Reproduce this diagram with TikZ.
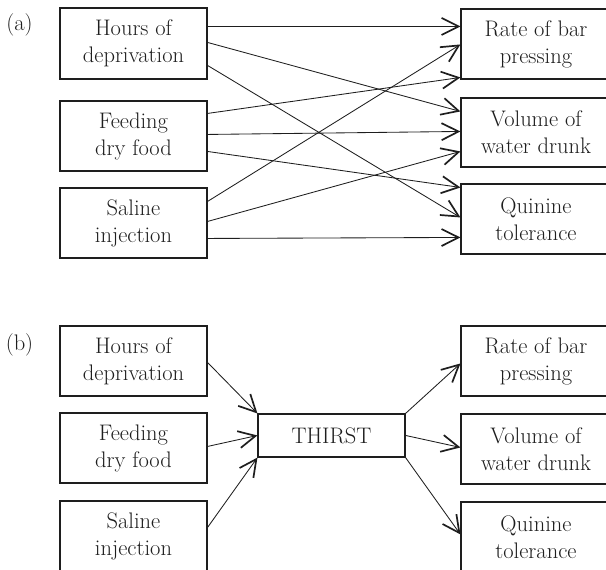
\documentclass[tikz,border=0pt]{standalone}
\usetikzlibrary{arrows.meta,calc}
\definecolor{ink}{HTML}{1E1E1E}
\begin{document}
\begin{tikzpicture}[x=1pt,y=-1pt,
  box/.style={draw=ink,line width=1.1pt,text=ink,align=center,inner sep=0pt,
    font=\fontsize{22.5}{27}\selectfont},
  lbox/.style={box,minimum width=147pt,minimum height=70pt},
  rbox/.style={box,minimum width=150pt,minimum height=70pt},
  conn/.style={draw=ink,line width=0.85pt,
    -{Straight Barb[length=17pt,width=17pt,line width=1.7pt]}},
  lbl/.style={text=ink,inner sep=0pt,font=\fontsize{22.5}{27}\selectfont}]
\useasboundingbox (0,0) rectangle (606,570);
\clip (0,0) rectangle (606,570);
% ---------- (a)
\node[lbl] (la) at (19.5,25) {(a)};
\node[lbox,minimum height=71pt] (ah) at (133.5,43.5) {Hours of\\deprivation};
\node[lbox] (af) at (133.5,136) {Feeding\\dry food};
\node[lbox] (as) at (133.5,223) {Saline\\injection};
\node[rbox] (ar) at (536,44) {Rate of bar\\pressing};
\node[rbox,minimum height=69pt] (av) at (536,132.5) {Volume of\\water drunk};
\node[rbox] (aq) at (536,219) {Quinine\\tolerance};
\draw[conn] ($(ah.north east)+(0,19)$) -- ($(ar.north west)+(0,18)$);
\draw[conn] ($(ah.north east)+(0,35)$) -- ($(av.north west)+(0,14)$);
\draw[conn] ($(ah.north east)+(0,58)$) -- ($(aq.north west)+(0,34)$);
\draw[conn] ($(af.north east)+(0,13)$) -- ($(ar.north west)+(0,69)$);
\draw[conn] ($(af.north east)+(0,34)$) -- ($(av.north west)+(0,34)$);
\draw[conn] ($(af.north east)+(0,51)$) -- ($(aq.north west)+(0,4)$);
\draw[conn] ($(as.north east)+(0,14)$) -- ($(ar.north west)+(0,36)$);
\draw[conn] ($(as.north east)+(0,34)$) -- ($(av.north west)+(0,54)$);
\draw[conn] ($(as.north east)+(0,51)$) -- ($(aq.north west)+(0,54)$);
% ---------- (b)
\node[lbl] (lb) at (19.5,345) {(b)};
\node[lbox] (bh) at (133.5,361) {Hours of\\deprivation};
\node[lbox] (bf) at (133.5,448) {Feeding\\dry food};
\node[lbox] (bs) at (133.5,536) {Saline\\injection};
\node[box,minimum width=147pt,minimum height=43pt] (th) at (331.5,435.5) {THIRST};
\node[rbox] (br) at (536,361) {Rate of bar\\pressing};
\node[rbox] (bv) at (536,449) {Volume of\\water drunk};
\node[rbox] (bq) at (536,537) {Quinine\\tolerance};
\draw[conn] ($(bh.north east)+(0,37)$) -- (th.north west);
\draw[conn] ($(bf.north east)+(0,34)$) -- ($(th.north west)+(0,22)$);
\draw[conn] ($(bs.north east)+(0,27)$) -- (th.south west);
\draw[conn] (th.north east) -- ($(br.north west)+(0,38)$);
\draw[conn] ($(th.north east)+(0,22)$) -- ($(bv.north west)+(0,34)$);
\draw[conn] (th.south east) -- ($(bq.north west)+(0,33)$);
\end{tikzpicture}
\end{document}
